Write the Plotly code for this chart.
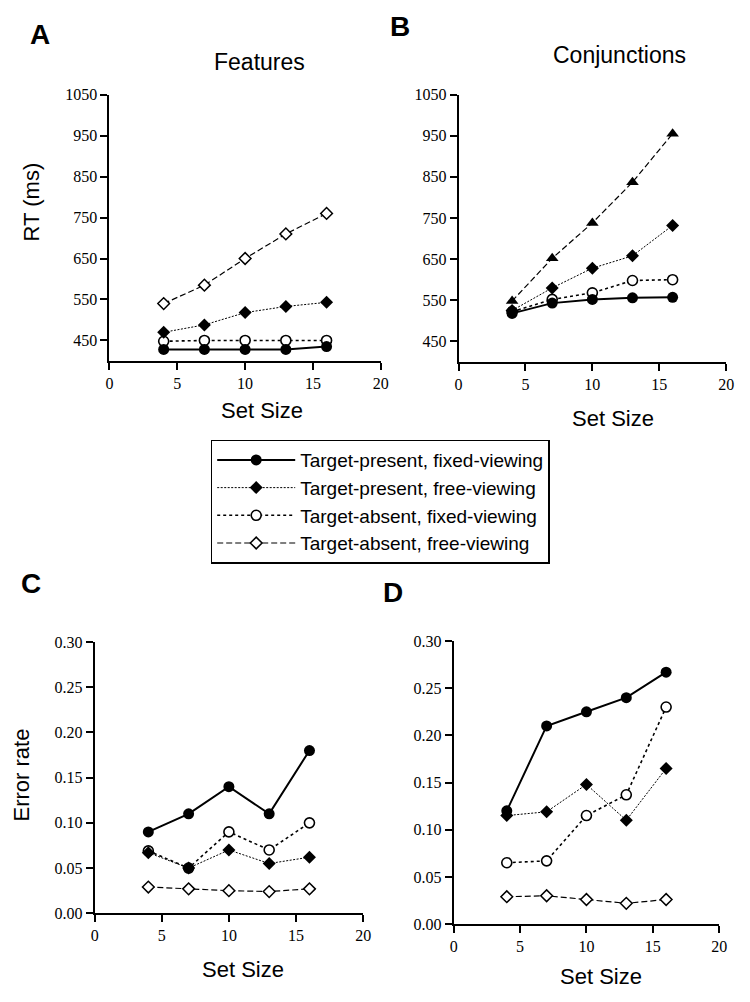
import plotly.graph_objects as go

set_size = [4, 7, 10, 13, 16]
series_names = [
    "Target-present, fixed-viewing",
    "Target-present, free-viewing",
    "Target-absent, fixed-viewing",
    "Target-absent, free-viewing",
]

# Panel A: RT, features
rt_feat_tp_fixed = [428, 428, 428, 428, 435]
rt_feat_tp_free = [470, 488, 518, 533, 543]
rt_feat_ta_fixed = [448, 450, 450, 450, 450]
rt_feat_ta_free = [540, 585, 650, 710, 760]

# Panel B: RT, conjunctions
rt_conj_tp_fixed = [518, 543, 552, 556, 557]
rt_conj_tp_free = [525, 580, 628, 658, 732]
rt_conj_ta_fixed = [522, 552, 568, 598, 600]
rt_conj_ta_free = [548, 652, 738, 837, 955]

# Panel C: error rate, features
err_feat_tp_fixed = [0.090, 0.110, 0.140, 0.110, 0.180]
err_feat_tp_free = [0.067, 0.050, 0.070, 0.055, 0.062]
err_feat_ta_fixed = [0.069, 0.050, 0.090, 0.070, 0.100]
err_feat_ta_free = [0.029, 0.027, 0.025, 0.024, 0.027]

# Panel D: error rate, conjunctions
err_conj_tp_fixed = [0.120, 0.210, 0.225, 0.240, 0.267]
err_conj_tp_free = [0.115, 0.119, 0.148, 0.110, 0.165]
err_conj_ta_fixed = [0.065, 0.067, 0.115, 0.137, 0.230]
err_conj_ta_free = [0.029, 0.030, 0.026, 0.022, 0.026]

rt_ticks = [450, 550, 650, 750, 850, 950, 1050]
err_ticks = [0.00, 0.05, 0.10, 0.15, 0.20, 0.25, 0.30]
err_ticktext = ["0.00", "0.05", "0.10", "0.15", "0.20", "0.25", "0.30"]
x_ticks = [0, 5, 10, 15, 20]

# the page body has an 8px margin, so the figure is 16px smaller than the window
W, H = 734, 986
OFF = 8  # reference pixel -> figure pixel


def fx(px):
    return (px - OFF) / W


def fy(py):
    return 1 - (py - OFF) / H


styles = [
    dict(line=dict(color="black", width=2, dash="solid"),
         marker=dict(symbol="circle", size=11, color="black")),
    dict(line=dict(color="black", width=1, dash="2px,1.5px"),
         marker=dict(symbol="diamond", size=10, color="black")),
    dict(line=dict(color="black", width=1.6, dash="3px,3px"),
         marker=dict(symbol="circle", size=10, color="white",
                     line=dict(color="black", width=1.6))),
    dict(line=dict(color="black", width=1.2, dash="6px,3px"),
         marker=dict(symbol="diamond", size=9, color="white",
                     line=dict(color="black", width=1.5))),
]

fig = go.Figure()

panels = [
    ("x", "y", [rt_feat_tp_fixed, rt_feat_tp_free, rt_feat_ta_fixed, rt_feat_ta_free], True, None),
    ("x2", "y2", [rt_conj_tp_fixed, rt_conj_tp_free, rt_conj_ta_fixed, rt_conj_ta_free], False, "triangle-up"),
    ("x3", "y3", [err_feat_tp_fixed, err_feat_tp_free, err_feat_ta_fixed, err_feat_ta_free], False, None),
    ("x4", "y4", [err_conj_tp_fixed, err_conj_tp_free, err_conj_ta_fixed, err_conj_ta_free], False, None),
]

for xa, ya, data, show, last_symbol in panels:
    for i in [3, 2, 1, 0]:
        st = styles[i]
        marker = dict(st["marker"])
        if i == 3 and last_symbol:
            marker = dict(symbol=last_symbol, size=11, color="black")
        fig.add_trace(go.Scatter(
            x=set_size, y=data[i], mode="lines+markers",
            name=series_names[i], line=st["line"], marker=marker,
            xaxis=xa, yaxis=ya, showlegend=show, legendrank=i + 1,
        ))

SANS = "Liberation Sans"
SERIF = "Liberation Serif"
tick_font = dict(family=SERIF, size=16, color="black")

axis_common = dict(showline=True, linewidth=1.8, linecolor="black", ticks="outside",
                   ticklen=7, tickwidth=1.5, tickcolor="black", showgrid=False,
                   zeroline=False, tickfont=tick_font)


def xaxis(x0, x1, anchor):
    return dict(domain=[fx(x0), fx(x1)], anchor=anchor, range=[0, 20],
                tickvals=x_ticks, **axis_common)


def rt_axis(y0, y1, anchor):
    return dict(domain=[fy(y1), fy(y0)], anchor=anchor, range=[400, 1050],
                tickvals=rt_ticks, **axis_common)


def err_axis(y0, y1, anchor):
    return dict(domain=[fy(y1), fy(y0)], anchor=anchor, range=[0, 0.30],
                tickvals=err_ticks, ticktext=err_ticktext, **axis_common)


fig.update_layout(
    width=W, height=H,
    margin=dict(l=0, r=0, t=0, b=0),
    paper_bgcolor="white", plot_bgcolor="white",
    xaxis=xaxis(107, 383, "y"),
    yaxis=rt_axis(88, 359, "x"),
    xaxis2=xaxis(462, 734, "y2"),
    yaxis2=rt_axis(88, 360, "x2"),
    xaxis3=xaxis(92, 365, "y3"),
    yaxis3=err_axis(645, 921, "x3"),
    xaxis4=xaxis(457, 727, "y4"),
    yaxis4=err_axis(644, 932, "x4"),
    legend=dict(x=fx(210), y=fy(439), xanchor="left", yanchor="top",
                bordercolor="black", borderwidth=1.5, bgcolor="white",
                font=dict(family=SANS, size=19, color="black"),
                itemwidth=78, traceorder="normal", tracegroupgap=0),
)

letter_font = dict(family=SANS, size=28, color="black")
sub_font = dict(family=SANS, size=23, color="black")
title_font = dict(family=SANS, size=22, color="black")
annots = [
    dict(text="<b>A</b>", x=36, y=27, font=letter_font),
    dict(text="<b>B</b>", x=402, y=19, font=letter_font),
    dict(text="<b>C</b>", x=27, y=585, font=letter_font),
    dict(text="<b>D</b>", x=395, y=595, font=letter_font),
    dict(text="Features", x=260, y=55, font=sub_font),
    dict(text="Conjunctions", x=626, y=48, font=sub_font),
    dict(text="RT (ms)", x=28, y=197, font=title_font, textangle=-90),
    dict(text="Error rate", x=18, y=780, font=title_font, textangle=-90),
    dict(text="Set Size", x=262, y=409, font=title_font),
    dict(text="Set Size", x=619, y=418, font=title_font),
    dict(text="Set Size", x=243, y=978, font=title_font),
    dict(text="Set Size", x=607, y=985, font=title_font),
]
for a in annots:
    a = dict(a)
    a["x"] = fx(a["x"])
    a["y"] = fy(a["y"])
    fig.add_annotation(xref="paper", yref="paper", showarrow=False,
                       xanchor="center", yanchor="middle", **a)

fig.write_html("out.html")
